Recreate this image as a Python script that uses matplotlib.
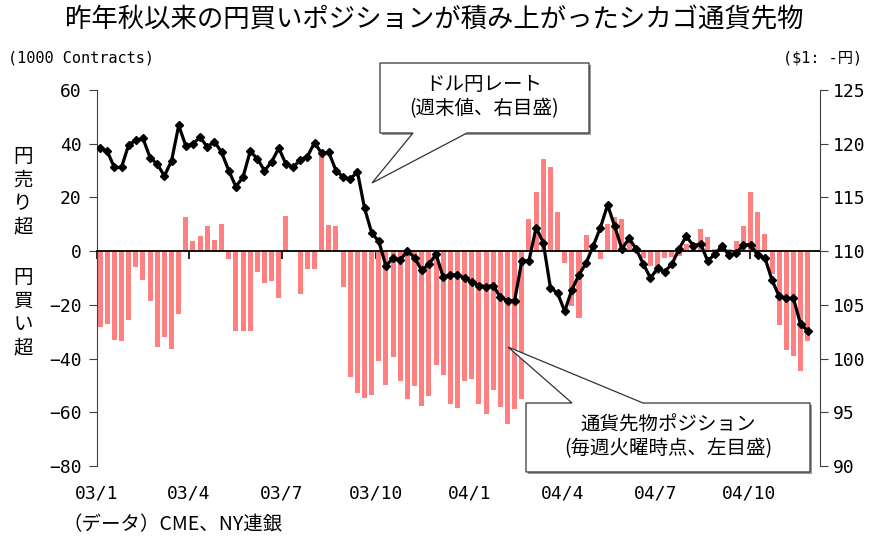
import matplotlib
matplotlib.use('Agg')
import matplotlib.pyplot as plt
from matplotlib.patches import Polygon
import numpy as np
import pandas as pd

plt.rcParams['font.family'] = ['Noto Sans CJK JP', 'DejaVu Sans']
MONO = ['DejaVu Sans Mono', 'Noto Sans CJK JP']

# weekly data, Jan 2003 - Nov 2004
weeks = pd.date_range('2003-01-04', periods=100, freq='7D')

# CME yen futures net position (1000 contracts, left axis)
position = [
    -28.2, -27.2, -33.0, -33.4, -25.6, -5.8, -10.7, -18.5, -35.6, -31.9,
    -36.4, -23.3, 12.7, 3.7, 5.6, 9.3, 4.1, 10.0, -2.9, -29.7,
    -29.7, -29.7, -7.7, -11.8, -11.0, -17.4, 13.0, 0.0, -15.9, -6.6,
    -6.6, 35.7, 9.7, 9.3, -13.3, -46.8, -52.7, -54.6, -53.5, -40.8,
    -49.8, -39.3, -48.3, -55.0, -50.1, -57.6, -53.8, -42.3, -46.0, -56.8,
    -58.3, -48.3, -47.5, -56.8, -60.5, -51.6, -57.9, -64.3, -58.7, -55.0,
    11.9, 22.0, 34.2, 31.3, 14.5, -4.3, -20.3, -24.8, 6.0, 1.0,
    -2.9, 10.2, 12.8, 11.9, 4.5, 1.0, -2.5, -5.6, -8.4, -2.5,
    -2.1, -1.9, 2.5, 1.0, 8.2, 5.2, 0.7, 1.0, 0.7, 3.7,
    9.3, 22.0, 14.5, 6.3, -8.4, -27.4, -36.7, -39.0, -44.5, -33.4,
]

# USD/JPY weekly close (right axis)
usdjpy = [
    119.6, 119.3, 117.8, 117.8, 119.9, 120.3, 120.5, 118.7, 118.1, 117.0,
    118.4, 121.7, 119.8, 120.0, 120.6, 119.7, 120.2, 119.2, 117.5, 116.0,
    116.9, 119.3, 118.6, 117.5, 118.3, 119.6, 118.1, 117.8, 118.5, 118.8,
    120.1, 119.1, 119.2, 117.5, 116.9, 116.7, 117.4, 114.0, 111.7, 110.9,
    108.6, 109.4, 109.2, 110.0, 109.4, 108.2, 108.8, 109.7, 107.6, 107.8,
    107.8, 107.5, 107.1, 106.8, 106.7, 106.8, 105.7, 105.4, 105.4, 109.1,
    109.1, 112.2, 110.8, 106.6, 106.1, 104.4, 106.4, 107.8, 108.9, 110.5,
    112.2, 114.3, 112.3, 110.2, 111.2, 110.2, 108.8, 107.5, 108.4, 108.1,
    108.8, 110.2, 111.4, 110.5, 110.7, 109.1, 109.7, 110.5, 109.6, 109.8,
    110.6, 110.6, 109.6, 109.4, 107.3, 105.8, 105.6, 105.6, 103.2, 102.6,
]

quarters = pd.to_datetime(['2003-01-01', '2003-04-01', '2003-07-01', '2003-10-01',
                           '2004-01-01', '2004-04-01', '2004-07-01', '2004-10-01'])
quarter_labels = ['03/1', '03/4', '03/7', '03/10', '04/1', '04/4', '04/7', '04/10']

W, H = 869, 537


def px(x, y):
    # pixel position (from top-left) to figure fraction
    return (x / W, 1 - y / H)


fig = plt.figure(figsize=(W / 100, H / 100), dpi=100)
ax = fig.add_axes([97 / W, 1 - 466 / H, 723 / W, 376 / H])

ax.bar(weeks, position, width=4.9, color='#FF8080', zorder=2)
ax.set_ylim(-80, 60)
ax.set_yticks(np.arange(-80, 61, 20))
ax.set_xlim(pd.Timestamp('2003-01-01'), pd.Timestamp('2004-12-09'))
ax.set_xticks(quarters)
ax.tick_params(axis='x', labelbottom=False, direction='out', length=6, width=1.2, color='black')
ax.tick_params(axis='y', direction='out', length=6, color='#404040', pad=5)
for lab in ax.get_yticklabels():
    lab.set_fontfamily(MONO)
    lab.set_fontsize(13)

ax.spines['top'].set_visible(False)
ax.spines['right'].set_visible(False)
ax.spines['bottom'].set_position(('data', 0))
ax.spines['bottom'].set_linewidth(1.3)
ax.spines['left'].set_color('#404040')

ax2 = ax.twinx()
ax2.plot(weeks, usdjpy, color='black', lw=2.3, marker='D', ms=3.6, zorder=3)
ax2.set_ylim(90, 125)
ax2.set_yticks(np.arange(90, 126, 5))
ax2.tick_params(axis='y', direction='out', length=6, color='#404040', pad=3)
for lab in ax2.get_yticklabels():
    lab.set_fontfamily(MONO)
    lab.set_fontsize(13)
ax2.spines['top'].set_visible(False)
ax2.spines['bottom'].set_visible(False)
ax2.spines['left'].set_visible(False)
ax2.spines['right'].set_color('#404040')

# quarter labels below the plot (axis line sits at zero)
for q, lab in zip(quarters, quarter_labels):
    ax.text(q, -90.3, lab, ha='center', va='center', fontsize=13, family=MONO, clip_on=False)

fig.text(*px(434, 20), '昨年秋以来の円買いポジションが積み上がったシカゴ通貨先物',
         ha='center', va='center', fontsize=19)
fig.text(*px(8, 58), '(1000 Contracts)', ha='left', va='center', fontsize=11, family=MONO)
fig.text(*px(862, 58), '($1: -円)', ha='right', va='center', fontsize=11, family=MONO)
fig.text(*px(23, 192), '円\n売\nり\n超', ha='center', va='center', fontsize=14, linespacing=1.15)
fig.text(*px(23, 313), '円\n買\nい\n超', ha='center', va='center', fontsize=14, linespacing=1.15)
fig.text(*px(62, 525), '（データ）CME、NY連銀', ha='left', va='center', fontsize=14)

# callout boxes
call1 = [(380, 63), (589, 63), (589, 133), (467, 133), (372, 183), (413, 133), (380, 133)]
call2 = [(526, 403), (572, 403), (508, 347), (643, 403), (810, 403), (810, 472), (526, 472)]
for pts, (x0, y0, x1, y1) in [(call1, (380, 63, 589, 133)), (call2, (526, 403, 810, 472))]:
    shadow = [px(x0 + 2, y0 + 2), px(x1 + 2, y0 + 2), px(x1 + 2, y1 + 2), px(x0 + 2, y1 + 2)]
    fig.add_artist(Polygon(shadow, closed=True, transform=fig.transFigure,
                           facecolor='#9a9a9a', edgecolor='none', zorder=4))
    fig.add_artist(Polygon([px(*p) for p in pts], closed=True, transform=fig.transFigure,
                           facecolor='white', edgecolor='#333333', lw=0.9, zorder=5))

fig.text(*px(484, 97), 'ドル円レート\n(週末値、右目盛)', ha='center', va='center',
         fontsize=14, linespacing=1.2, zorder=6)
fig.text(*px(668, 437), '通貨先物ポジション\n(毎週火曜時点、左目盛)', ha='center', va='center',
         fontsize=14, linespacing=1.2, zorder=6)

fig.savefig('out.png', dpi=100)
